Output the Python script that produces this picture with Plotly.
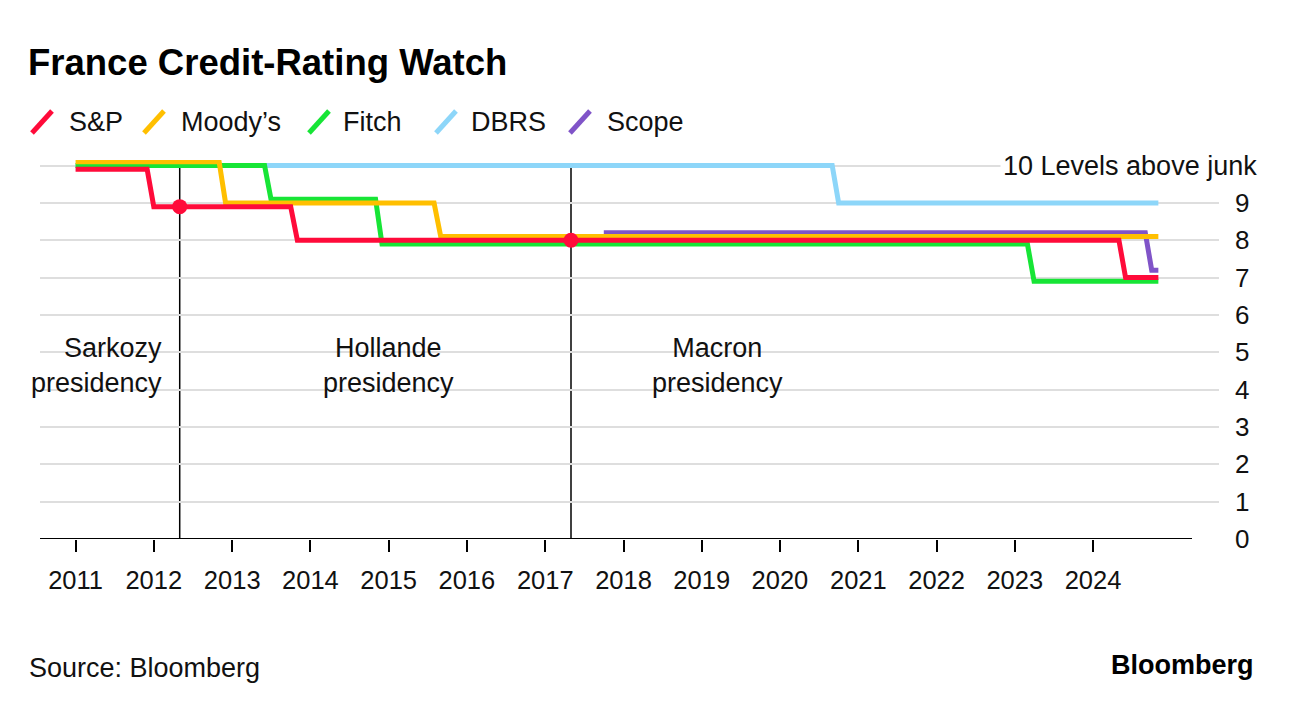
import numpy as np
import pandas as pd
import plotly.graph_objects as go

# ---------------- data ----------------
sp_dates = ["2011-01-01", "2011-12-01", "2012-01-01", "2013-10-01", "2013-11-01",
            "2024-05-01", "2024-06-01", "2024-11-01"]
sp_vals = [9.9, 9.9, 8.9, 8.9, 8.0, 8.0, 7.0, 7.0]

moodys_dates = ["2011-01-01", "2012-11-01", "2012-12-01", "2015-08-01", "2015-09-01", "2024-11-01"]
moodys_vals = [10.1, 10.1, 9.0, 9.0, 8.1, 8.1]

fitch_dates = ["2011-01-01", "2013-06-01", "2013-07-01", "2014-11-01", "2014-12-01",
               "2023-03-01", "2023-04-01", "2024-11-01"]
fitch_vals = [10.0, 10.0, 9.1, 9.1, 7.9, 7.9, 6.9, 6.9]

dbrs_dates = ["2011-01-01", "2020-09-01", "2020-10-01", "2024-11-01"]
dbrs_vals = [10.0, 10.0, 9.0, 9.0]

scope_dates = ["2017-10-01", "2024-09-01", "2024-10-01", "2024-11-01"]
scope_vals = [8.2, 8.2, 7.2, 7.2]

presidency_starts = ["2012-05-01", "2017-05-01"]
presidency_labels = ["Sarkozy<br>presidency", "Hollande<br>presidency", "Macron<br>presidency"]
presidency_label_x = ["2012-05-01", "2015-01-01", "2019-03-15"]
presidency_label_y = 4.66

year_ticks = [f"{y}-01-01" for y in range(2011, 2025)]
year_labels = [str(y) for y in range(2011, 2025)]
y_ticks = list(range(0, 11))
y_labels = [str(v) for v in range(0, 10)] + [""]
top_label = "10 Levels above junk"

legend_names = ["S&P", "Moody’s", "Fitch", "DBRS", "Scope"]
colors = {"S&P": "#FF0B3A", "Moody’s": "#FFBF00", "Fitch": "#17E536",
          "DBRS": "#8DD6F9", "Scope": "#8054C8"}
series = {"S&P": (sp_dates, sp_vals), "Moody’s": (moodys_dates, moodys_vals),
          "Fitch": (fitch_dates, fitch_vals), "DBRS": (dbrs_dates, dbrs_vals),
          "Scope": (scope_dates, scope_vals)}
draw_order = ["DBRS", "Fitch", "Scope", "Moody’s", "S&P"]

# ---------------- layout geometry ----------------
W, H = 1292, 710
L, R, T, B = 40, 73, 160, 171
PW, PH = W - L - R, H - T - B
FONT = "Liberation Sans, Arial, sans-serif"
TXT = "#111111"


def pxx(p):
    return (p - L) / PW


def pxy(p):
    return (H - B - p) / PH


fig = go.Figure()

for name in draw_order:
    d, v = series[name]
    fig.add_trace(go.Scatter(x=pd.to_datetime(d), y=v, mode="lines", name=name,
                             line=dict(color=colors[name], width=5),
                             showlegend=False, hoverinfo="skip"))

# dots where presidencies begin, on the S&P line
sp_t = pd.to_datetime(sp_dates).astype("int64")
ps_t = pd.to_datetime(presidency_starts).astype("int64")
dot_vals = np.interp(ps_t, sp_t, sp_vals)
fig.add_trace(go.Scatter(x=pd.to_datetime(presidency_starts), y=dot_vals, mode="markers",
                         marker=dict(color=colors["S&P"], size=15), showlegend=False,
                         hoverinfo="skip"))

shapes = []
for d in presidency_starts:
    shapes.append(dict(type="line", xref="x", yref="y", x0=d, x1=d, y0=0, y1=10,
                       line=dict(color="black", width=1.5), layer="below"))
# baseline
shapes.append(dict(type="line", xref="paper", yref="y", x0=0, x1=pxx(1192), y0=0, y1=0,
                   line=dict(color="black", width=1.8)))

annotations = []
for i, (txt, x) in enumerate(zip(presidency_labels, presidency_label_x)):
    annotations.append(dict(x=x, y=presidency_label_y, xref="x", yref="y", text=txt,
                            showarrow=False, xanchor="right" if i == 0 else "center",
                            align="right" if i == 0 else "center",
                            xshift=-16 if i == 0 else 0,
                            font=dict(family=FONT, size=27, color=TXT)))
annotations.append(dict(x=pxx(1260), y=10, xref="paper", yref="y", text=top_label,
                        showarrow=False, xanchor="right", yanchor="middle",
                        bgcolor="white", borderpad=2,
                        font=dict(family=FONT, size=27, color=TXT)))

# legend (custom: slanted strokes + labels)
leg_slash_x = [29, 141, 306, 433, 567]
leg_text_x = [67, 179, 341, 469, 605]
leg_y = 122
for name, sx, tx in zip(legend_names, leg_slash_x, leg_text_x):
    shapes.append(dict(type="line", xref="paper", yref="paper",
                       x0=pxx(sx + 3), y0=pxy(leg_y + 11), x1=pxx(sx + 23), y1=pxy(leg_y - 11),
                       line=dict(color=colors[name], width=5)))
    annotations.append(dict(x=pxx(tx), y=pxy(leg_y), xref="paper", yref="paper", text=name,
                            showarrow=False, xanchor="left", yanchor="middle",
                            font=dict(family=FONT, size=27, color=TXT)))

annotations.append(dict(x=pxx(27), y=pxy(668), xref="paper", yref="paper",
                        text="Source: Bloomberg", showarrow=False, xanchor="left",
                        yanchor="middle", font=dict(family=FONT, size=27, color=TXT)))
annotations.append(dict(x=pxx(1256), y=pxy(665), xref="paper", yref="paper",
                        text="<b>Bloomberg</b>", showarrow=False, xanchor="right",
                        yanchor="middle", font=dict(family=FONT, size=27, color="black")))

fig.update_layout(
    width=W, height=H, margin=dict(l=L, r=R, t=T, b=B),
    paper_bgcolor="white", plot_bgcolor="white",
    title=dict(text="<b>France Credit-Rating Watch</b>", x=28 / W, xref="container",
               xanchor="left", y=1 - 62 / H, yanchor="middle",
               font=dict(family=FONT, size=36.5, color="black")),
    xaxis=dict(type="date", range=["2010-07-19", "2025-08-11"], tickvals=year_ticks,
               ticktext=year_labels, ticks="outside", ticklen=12, tickwidth=1.5,
               tickcolor="black", showgrid=False, zeroline=False, showline=False,
               ticklabelstandoff=6,
               tickfont=dict(family=FONT, size=25.5, color=TXT), fixedrange=True),
    yaxis=dict(range=[0, 10.15], side="right", tickvals=y_ticks, ticktext=y_labels,
               showgrid=True, gridcolor="#DEDEDE", gridwidth=2, zeroline=False,
               showline=False, ticks="", ticklabelstandoff=15,
               tickfont=dict(family=FONT, size=26, color=TXT), fixedrange=True),
    shapes=shapes, annotations=annotations, showlegend=False,
)

fig.write_html("out.html", config={"displayModeBar": False},
               post_script="document.body.style.margin='0px';document.body.style.padding='0px';")
